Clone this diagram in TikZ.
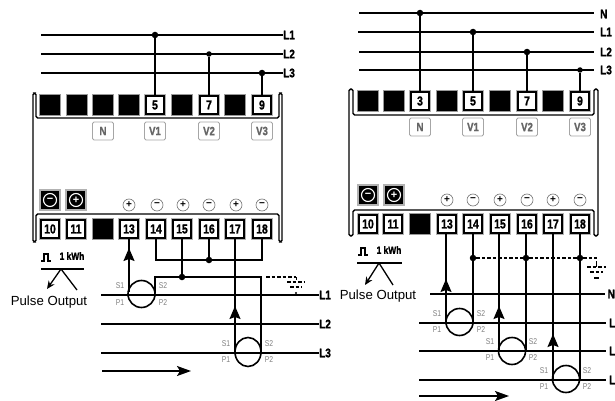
\documentclass[tikz,border=0pt]{standalone}
\usepackage{fontspec}
\setmainfont{Liberation Sans}
\newfontfamily\narrowf[FakeStretch=0.8,BoldFeatures={FakeStretch=0.8,FakeBold=1.2}]{Liberation Sans}
\usetikzlibrary{arrows.meta}
\tikzset{
  blk/.style={draw=black!40,line width=0.8pt,fill=black,minimum size=20.5pt,inner sep=0pt},
  term/.style={draw=black,line width=1.6pt,fill=white,minimum size=18.5pt,inner sep=0pt,font=\narrowf\fontsize{13}{13}\selectfont\bfseries,preaction={draw=black!30,line width=3pt}},
  tag/.style={draw=black!35,line width=0.9pt,rounded corners=1.5pt,fill=white,minimum width=21pt,minimum height=18pt,inner sep=0pt,text=black!60,font=\narrowf\fontsize{12}{12}\selectfont\bfseries},
  sign/.style={circle,draw=black!55,line width=0.6pt,minimum size=12pt,inner sep=0pt,font=\fontsize{10}{10}\selectfont\bfseries},
  btn/.style={draw=black!30,line width=1.2pt,fill=black,minimum size=20pt,inner sep=0pt},
  btnc/.style={circle,draw=white,line width=1.1pt,text=white,minimum size=13pt,inner sep=0pt,font=\fontsize{11}{11}\selectfont\bfseries},
  dot/.style={circle,fill=black,minimum size=6.5pt,inner sep=0pt},
  bus/.style={line width=1.5pt},
  wire/.style={line width=1.5pt},
  case/.style={line width=1.4pt,rounded corners=1.6pt},
  ctcoil/.style={line width=1.6pt},
  arrowup/.style={wire,-{Stealth[length=13pt,width=11pt,inset=2pt]}},
  flow/.style={line width=1.5pt,-{Stealth[length=14pt,width=10pt,inset=3pt]}},
  lbl/.style={anchor=west,inner sep=0pt,font=\narrowf\fontsize{12.5}{12.5}\selectfont\bfseries},
  ctl/.style={inner sep=0pt,text=black!50,font=\narrowf\fontsize{8.5}{8.5}\selectfont},
  pout/.style={inner sep=0pt,font=\fontsize{13.2}{13.2}\selectfont},
  kwh/.style={inner sep=0pt,font=\narrowf\fontsize{10.5}{10.5}\selectfont\bfseries},
  gnd/.style={line width=1.2pt,dash pattern=on 3.5pt off 2pt}
}
\begin{document}
\begin{tikzpicture}[x=1pt,y=-1pt]
\useasboundingbox (0,0) rectangle (615,401);
\fill[white] (0,0) rectangle (615,401);
% ---------- LEFT DIAGRAM ----------
\draw[case] (33,242) -- (33,93) -- (36,93) -- (36,118) -- (279,118) -- (279,93) -- (282,93) -- (282,242) -- (279,242) -- (279,214) -- (36,214) -- (36,242) -- cycle;
\foreach \n/\x in {a/50,b/77,c/103,d/129,e/182,f/235} \node[blk] (lu\n) at (\x,105) {};
\node[term] (lt5) at (155,105) {5};
\node[term] (lt7) at (209,105) {7};
\node[term] (lt9) at (262,105) {9};
\node[tag] (ltagN) at (103,131) {N};
\node[tag] (ltagA) at (155,131) {V1};
\node[tag] (ltagB) at (209,131) {V2};
\node[tag] (ltagC) at (262,131) {V3};
\node[btn] (lb1) at (50,200) {}; \node[btnc] at (lb1) {−};
\node[btn] (lb2) at (76,200) {}; \node[btnc] at (lb2) {+};
\foreach \n/\x/\s in {a/129/+,b/157/−,c/183/+,d/209/−,e/236/+,f/262/−} \node[sign] (ls\n) at (\x,205) {\s};
\node[term] (lt10) at (50,229) {10};
\node[term] (lt11) at (76,229) {11};
\node[blk] (lblk) at (103,229) {};
\node[term] (lt13) at (129,229) {13};
\node[term] (lt14) at (156,229) {14};
\node[term] (lt15) at (182,229) {15};
\node[term] (lt16) at (209,229) {16};
\node[term] (lt17) at (235,229) {17};
\node[term] (lt18) at (262,229) {18};
% buses
\node[lbl] (lL1) at (283,35) {L1};
\node[lbl] (lL2) at (283,54) {L2};
\node[lbl] (lL3) at (283,73) {L3};
\coordinate (la1) at (41,35); \coordinate (la2) at (41,54); \coordinate (la3) at (41,73);
\draw[bus] (la1) -- (lL1.west);
\draw[bus] (la2) -- (lL2.west);
\draw[bus] (la3) -- (lL3.west);
\node[dot] (lj1) at (155,35) {};
\node[dot,minimum size=5.5pt] (lj2) at (209,54) {};
\node[dot] (lj3) at (262,73) {};
\draw[wire] (lj1) -- (lt5);
\draw[wire] (lj2) -- (lt7);
\draw[wire] (lj3) -- (lt9);
% lower lines
\node[lbl] (lM1) at (319,295) {L1};
\node[lbl] (lM2) at (319,324) {L2};
\node[lbl] (lM3) at (319,353) {L3};
\coordinate (lc1) at (101,295); \coordinate (lc2) at (101,324); \coordinate (lc3) at (101,353);
\draw[bus] (lc1) -- (lM1.west);
\draw[bus] (lc2) -- (lM2.west);
\draw[bus] (lc3) -- (lM3.west);
% CTs
\draw[ctcoil] (141.5,294) circle[x radius=13.5,y radius=13.5];
\draw[ctcoil] (248,352) circle[x radius=13,y radius=14.5];
\coordinate (lct1a) at (129,292);
\coordinate (lct2a) at (235,353);
\coordinate (lct2b) at (261,353);
\draw[arrowup] (lct1a) -- (129,248);
\draw[wire] (129,255) -- (lt13);
\draw[wire] (lct2a) -- (lt17);
\draw[arrowup] (235,330) -- (235,306);
% return wires
\node[dot] (lj16) at (209,260) {};
\node[dot] (lj15) at (182,277) {};
\coordinate (lq1) at (155,293);
\coordinate (lq2) at (155,277);
\coordinate (lq3) at (261,277);
\draw[wire] (lt14) |- (lj16);
\draw[wire] (lj16) -| (lt18);
\draw[wire] (lt16) -- (lj16);
\draw[wire] (lt15) -- (lj15);
\draw[wire] (lq1) -- (lq2) -- (lj15) -- (lq3) -- (lct2b);
\coordinate (lg0) at (266,277); \coordinate (lg1) at (296,277);
\draw[gnd] (lg0) -- (lg1);
\draw[gnd] (287,282) -- (305,282);
\draw[gnd] (290,287) -- (302,287);
\draw[line width=1pt] (296,277) -- (296,280);
\fill (296,293) circle[radius=1.2];
% CT labels
\node[ctl] (ls1) at (120,286) {S1}; \node[ctl] (lp1) at (120,303) {P1};
\node[ctl] (ls2) at (163,286) {S2}; \node[ctl] (lp2) at (163,303) {P2};
\node[ctl] (ls3) at (226,344) {S1}; \node[ctl] (lp3) at (226,360) {P1};
\node[ctl] (ls4) at (269,344) {S2}; \node[ctl] (lp4) at (269,360) {P2};
\coordinate (lf1) at (102,371); \coordinate (lf2) at (191,371);
\draw[flow] (lf1) -- (lf2);
% pulse
\draw[line width=1.3pt] (41,261) -- (44,261) -- (44,254) -- (48,254) -- (48,261) -- (51,261);
\node[kwh] (lk) at (72,256) {1 kWh};
\draw[line width=1.4pt] (41,269) -- (84,269);
\draw[line width=1.3pt,-{Stealth[length=8pt,width=7pt]}] (61,269) -- (47,289);
\draw[line width=1.3pt] (61,269) -- (77,290);
\node[pout] (lo) at (49,302.5) {Pulse Output};
% ---------- RIGHT DIAGRAM ----------
\draw[case] (349,236) -- (349,89) -- (353,89) -- (353,115) -- (594,115) -- (594,89) -- (598,89) -- (598,236) -- (594,236) -- (594,210) -- (353,210) -- (353,236) -- cycle;
\foreach \n/\x in {a/368,b/394,c/447,d/500,e/553} \node[blk] (ru\n) at (\x,101) {};
\node[term] (rt3) at (420,101) {3};
\node[term] (rt5) at (473,101) {5};
\node[term] (rt7) at (527,101) {7};
\node[term] (rt9) at (580,101) {9};
\node[tag] (rtagN) at (420,127) {N};
\node[tag] (rtagA) at (473,127) {V1};
\node[tag] (rtagB) at (527,127) {V2};
\node[tag] (rtagC) at (580,127) {V3};
\node[btn] (rb1) at (368,195) {}; \node[btnc] at (rb1) {−};
\node[btn] (rb2) at (394,195) {}; \node[btnc] at (rb2) {+};
\foreach \n/\x/\s in {a/447/+,b/473/−,c/500/+,d/527/−,e/553/+,f/580/−} \node[sign] (rs\n) at (\x,200) {\s};
\node[term] (rt10) at (368,224) {10};
\node[term] (rt11) at (393,224) {11};
\node[blk] (rblk) at (420,224) {};
\node[term] (rt13) at (447,224) {13};
\node[term] (rt14) at (473,224) {14};
\node[term] (rt15) at (500,224) {15};
\node[term] (rt16) at (527,224) {16};
\node[term] (rt17) at (553,224) {17};
\node[term] (rt18) at (580,224) {18};
% buses
\node[lbl] (rLN) at (600,14) {N};
\node[lbl] (rL1) at (600,32) {L1};
\node[lbl] (rL2) at (600,52) {L2};
\node[lbl] (rL3) at (600,70) {L3};
\coordinate (ra0) at (359,13); \coordinate (ra1) at (358,32); \coordinate (ra2) at (359,52); \coordinate (ra3) at (359,70);
\coordinate (re0) at (594,13); \coordinate (re1) at (594,32); \coordinate (re2) at (594,52); \coordinate (re3) at (594,70);
\draw[bus] (ra0) -- (re0);
\draw[bus] (ra1) -- (re1);
\draw[bus] (ra2) -- (re2);
\draw[bus] (ra3) -- (re3);
\node[dot] (rj0) at (420,13) {};
\node[dot] (rj1) at (473,32) {};
\node[dot] (rj2) at (527,52) {};
\node[dot,minimum size=5.5pt] (rj3) at (580,70) {};
\draw[wire] (rj0) -- (rt3);
\draw[wire] (rj1) -- (rt5);
\draw[wire] (rj2) -- (rt7);
\draw[wire] (rj3) -- (rt9);
% lower lines
\node[lbl] (rMN) at (607.5,294) {N};
\node[lbl] (rM1) at (609,323) {L};
\node[lbl] (rM2) at (609,351) {L};
\node[lbl] (rM3) at (609,380) {L};
\coordinate (rc0) at (430,294); \coordinate (rc1) at (419,323); \coordinate (rc2) at (419,351); \coordinate (rc3) at (419,380);
\coordinate (rd0) at (605,294); \coordinate (rd1) at (606,323); \coordinate (rd2) at (606,351); \coordinate (rd3) at (606,380);
\draw[bus] (rc0) -- (rd0);
\draw[bus] (rc1) -- (rd1);
\draw[bus] (rc2) -- (rd2);
\draw[bus] (rc3) -- (rd3);
% CTs
\draw[ctcoil] (459.5,322) circle[x radius=13.5,y radius=13.5];
\draw[ctcoil] (512,351) circle[x radius=13.5,y radius=13.5];
\draw[ctcoil] (566,379) circle[x radius=13.5,y radius=13.5];
\coordinate (rw1) at (446,322); \coordinate (rw2) at (473,322);
\coordinate (rw3) at (499,351); \coordinate (rw4) at (526,351);
\coordinate (rw5) at (553,379); \coordinate (rw6) at (580,379);
\draw[wire] (rw1) -- (rt13.south -| rw1);
\draw[wire] (rw2) -- (rt14);
\draw[wire] (rw3) -- (rt15.south -| rw3);
\draw[wire] (rw4) -- (rt16.south -| rw4);
\draw[wire] (rw5) -- (rt17);
\draw[wire] (rw6) -- (rt18);
\draw[arrowup] (446,300) -- (446,279);
\draw[arrowup] (499,327) -- (499,306);
\draw[arrowup] (553,355) -- (553,334);
\node[dot] (rg1) at (473,258) {};
\node[dot] (rg2) at (526,258) {};
\node[dot] (rg3) at (580,258) {};
\coordinate (rg4) at (597,258);
\draw[gnd,line width=1.4pt] (rg1) -- (rg2);
\draw[gnd,line width=1.4pt] (rg2) -- (rg3);
\draw[gnd,line width=1.4pt] (rg3) -- (rg4);
\draw[line width=1pt] (596,261) -- (596,267);
\draw[gnd] (587,267) -- (606,267);
\draw[gnd] (590,272) -- (603,272);
\draw[line width=1.2pt] (594,278) -- (599,278);
% CT labels
\node[ctl] (rs1a) at (437,314) {S1}; \node[ctl] (rp1a) at (437,330) {P1};
\node[ctl] (rs1b) at (481,314) {S2}; \node[ctl] (rp1b) at (481,330) {P2};
\node[ctl] (rs2a) at (490,342) {S1}; \node[ctl] (rp2a) at (490,358) {P1};
\node[ctl] (rs2b) at (533,342) {S2}; \node[ctl] (rp2b) at (533,358) {P2};
\node[ctl] (rs3a) at (544,371) {S1}; \node[ctl] (rp3a) at (544,387) {P1};
\node[ctl] (rs3b) at (587,371) {S2}; \node[ctl] (rp3b) at (587,387) {P2};
\coordinate (rf1) at (419,396); \coordinate (rf2) at (509,396);
\draw[flow] (rf1) -- (rf2);
% pulse
\draw[line width=1.3pt] (358,255) -- (361,255) -- (361,248) -- (365,248) -- (365,255) -- (368,255);
\node[kwh] (rk) at (389,250) {1 kWh};
\draw[line width=1.4pt] (357,263) -- (402,263);
\draw[line width=1.3pt,-{Stealth[length=8pt,width=7pt]}] (379,263) -- (365,285);
\draw[line width=1.3pt] (379,263) -- (393,285);
\node[pout] (ro) at (378,296.5) {Pulse Output};
\end{tikzpicture}
\end{document}
